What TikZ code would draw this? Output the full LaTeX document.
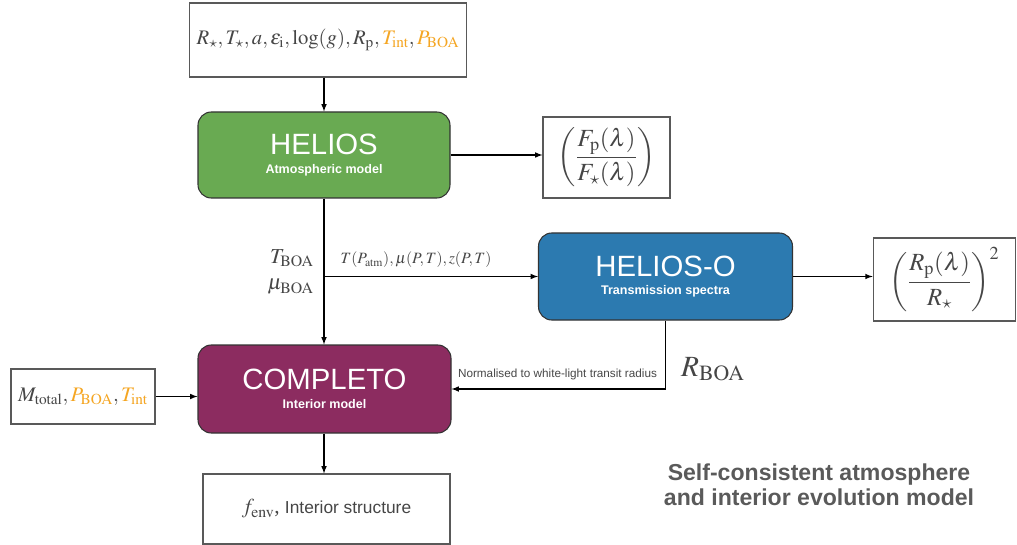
\documentclass[tikz,border=0pt]{standalone}
\usepackage{amsmath,amssymb}
\usepackage{mathptmx}
\usepackage[no-math]{fontspec}
\setmainfont{Liberation Serif}
\setsansfont{Liberation Sans}
\usepackage{xcolor}
\usepackage{tikz}
\usetikzlibrary{calc}
\usetikzlibrary{positioning}

\definecolor{heliosgreen}{RGB}{105,170,82}
\definecolor{heliosblue}{RGB}{44,122,176}
\definecolor{completopurple}{RGB}{140,44,96}
\definecolor{paramorange}{RGB}{245,166,35}
\definecolor{textgray}{RGB}{70,70,70}
\definecolor{captiongray}{RGB}{90,90,90}

\newcommand{\modeltext}[2]{{\fontsize{22}{24}\selectfont #1}\\[2pt]{\bfseries\fontsize{9.4}{11}\selectfont #2}}

\begin{document}
\begin{tikzpicture}[x=0.75pt,y=0.75pt,yscale=-1,xscale=1,
  >=latex,
  model/.style={draw=black!80,line width=0.8pt,rounded corners=10pt,text=white,align=center,font=\sffamily},
  plainbox/.style={draw=black!65,line width=0.8pt,fill=white,align=center,text=textgray},
  mathlabel/.style={text=textgray,inner sep=0.75pt,font=\fontsize{16}{18}\selectfont},
  link/.style={line width=0.9pt,->}]
\useasboundingbox (0,0) rectangle (1017,545);

%Input parameters
\node [plainbox,minimum width=208pt,minimum height=55.5pt,font=\fontsize{15.5}{18}\selectfont] (inp) at (328,40)
  {$R_\star, T_\star, a, \varepsilon_{\rm i}, \log(g), R_{\rm p}, {\color{paramorange}T_{\rm int}}, {\color{paramorange}P_{\rm BOA}}$};

%Models
\node [model,fill=heliosgreen,minimum width=189pt,minimum height=64.5pt] (helios) at (324,155)
  {\modeltext{HELIOS}{Atmospheric model}};
\node [model,fill=heliosblue,minimum width=190.5pt,minimum height=65.25pt] (heliosO) at (665.5,276.5)
  {\modeltext{HELIOS-O}{Transmission spectra}};
\node [model,fill=completopurple,minimum width=189.75pt,minimum height=66pt] (completo) at (324.5,389)
  {\modeltext{COMPLETO}{Interior model}};

%Outputs
\node [plainbox,minimum width=95.25pt,minimum height=60.75pt,font=\fontsize{18.5}{20}\selectfont] (flux) at (606.5,157.5)
  {$\left(\dfrac{F_{\rm p}(\lambda)}{F_\star(\lambda)}\right)$};
\node [plainbox,minimum width=107pt,minimum height=62.25pt,font=\fontsize{18.5}{20}\selectfont] (trans) at (944.5,279.5)
  {$\left(\dfrac{R_{\rm p}(\lambda)}{R_\star}\right)^{2}$};
\node [plainbox,minimum width=108pt,minimum height=41.25pt,font=\fontsize{15.5}{17}\selectfont] (minp) at (83,396.5)
  {$M_{\rm total}, {\color{paramorange}P_{\rm BOA}}, {\color{paramorange}T_{\rm int}}$};
\node [plainbox,minimum width=185.25pt,minimum height=52.5pt,font=\fontsize{16}{18}\selectfont] (out) at (326.5,509)
  {$f_{\rm env}$, {\sffamily\fontsize{13}{15}\selectfont Interior structure}};

%Connectors
\coordinate (branch) at (helios.south |- heliosO.west);
\draw [link] (inp.south -| helios.south) -- (helios.north);
\draw [link] (helios.east) -- (helios.east -| flux.west);
\draw [line width=0.9pt] (helios.south) -- (branch);
\draw [link] (branch) -- (heliosO.west);
\draw [link] (branch) -- (completo.north -| branch);
\draw [link] (heliosO.east) -- (heliosO.east -| trans.west);
\draw [link] (heliosO.south) |- (completo.east);
\draw [link] (minp.east) -- (minp.east -| completo.west);
\draw [link] (completo.south -| branch) -- (out.north -| branch);

% Text Node
\node [mathlabel,anchor=east] (tboa) at (315,258) {$T_{\rm BOA}$};
% Text Node
\node [mathlabel,anchor=east] (muboa) at (315,287) {$\mu_{\rm BOA}$};
% Text Node
\node [mathlabel,font=\fontsize{11.8}{14}\selectfont] (profiles) at (416,260)
  {$T(P_{\rm atm}), \mu(P,T), z(P,T)$};
% Text Node
\node [text=textgray,inner sep=0.75pt,font=\sffamily\fontsize{8.8}{10}\selectfont] (norm) at (557.5,374)
  {Normalised to white-light transit radius};
% Text Node
\node [mathlabel,font=\fontsize{22}{24}\selectfont] (rboa) at (713,369) {$R_{\rm BOA}$};
% Text Node
\node [text=captiongray,align=center,inner sep=0.75pt,font=\sffamily\bfseries\fontsize{17.3}{18.5}\selectfont] (caption) at (819,485)
  {Self-consistent atmosphere\\and interior evolution model};

\end{tikzpicture}
\end{document}
